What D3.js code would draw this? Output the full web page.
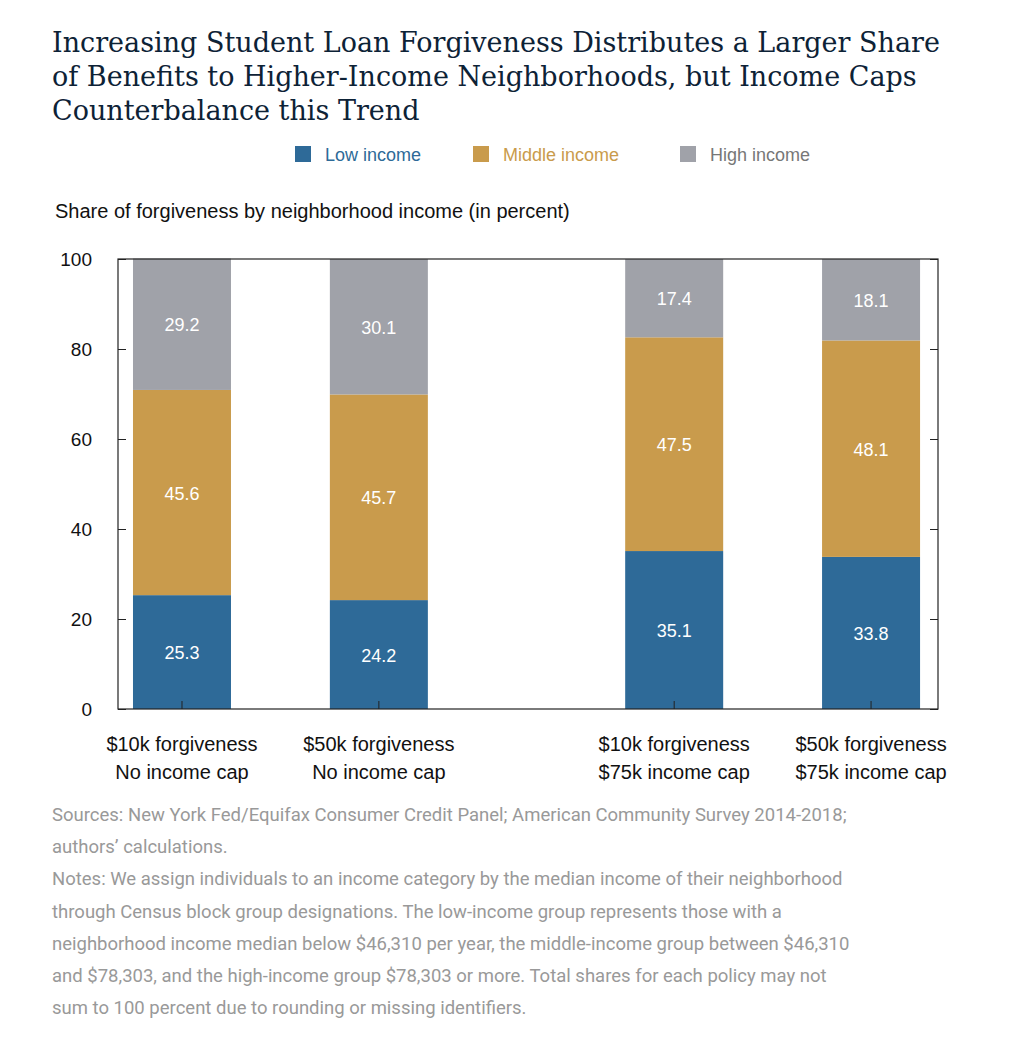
<!DOCTYPE html>
<html><head><meta charset="utf-8">
<script src="https://cdn.jsdelivr.net/npm/d3@7"></script>
<style>body{margin:0;background:#fff}</style>
</head><body>
<script>
// values
const policies = ["$10k forgiveness|No income cap", "$50k forgiveness|No income cap",
                  "$10k forgiveness|$75k income cap", "$50k forgiveness|$75k income cap"];
const slots = [0, 1, 2.5, 3.5]; // gap between the two pairs
const lowIncome = [25.3, 24.2, 35.1, 33.8];
const midIncome = [45.6, 45.7, 47.5, 48.1];
const highIncome = [29.2, 30.1, 17.4, 18.1];
const seriesNames = ["Low income", "Middle income", "High income"];
const colors = ["#2e6a98", "#c99b4c", "#a0a2a9"];
const yTicks = [0, 20, 40, 60, 80, 100];
const notes = [
  "Sources: New York Fed/Equifax Consumer Credit Panel; American Community Survey 2014-2018;",
  "authors\u2019 calculations.",
  "Notes: We assign individuals to an income category by the median income of their neighborhood",
  "through Census block group designations. The low-income group represents those with a",
  "neighborhood income median below $46,310 per year, the middle-income group between $46,310",
  "and $78,303, and the high-income group $78,303 or more. Total shares for each policy may not",
  "sum to 100 percent due to rounding or missing identifiers."];

const svg = d3.select("body").append("svg").attr("width", 1028).attr("height", 1046);
const sans = "Liberation Sans, Arial, sans-serif";

// title
svg.append("text").attr("font-family", "DejaVu Serif, Georgia, serif").attr("font-size", 27)
  .attr("fill", "#0d2236")
  .selectAll("tspan").data([
    "Increasing Student Loan Forgiveness Distributes a Larger Share",
    "of Benefits to Higher-Income Neighborhoods, but Income Caps",
    "Counterbalance this Trend"])
  .join("tspan").attr("x", 52).attr("y", (d, i) => 52 + i * 34).text(d => d);

// legend
const legX = [295, 473, 680];
seriesNames.forEach((n, i) => {
  svg.append("rect").attr("x", legX[i]).attr("y", 146).attr("width", 16).attr("height", 16).attr("fill", colors[i]);
  svg.append("text").attr("x", legX[i] + 30).attr("y", 161).attr("font-family", sans)
    .attr("font-size", 18).attr("fill", i === 0 ? "#2e6a98" : i === 1 ? "#c99b4c" : "#777").text(n);
});

svg.append("text").attr("x", 55).attr("y", 218).attr("font-family", sans).attr("font-size", 20)
  .attr("fill", "#111").text("Share of forgiveness by neighborhood income (in percent)");

const pL = 118, pR = 938, pT = 259, pB = 709;
const y = d3.scaleLinear().domain([0, 100]).range([pB, pT]);
const x = d3.scaleLinear().domain([-0.325, 3.84]).range([pL, pR]);
const bw = 98;

const stacked = d3.stack().keys([0, 1, 2]).value((d, k) => d[k])(
  lowIncome.map((v, i) => [v, midIncome[i], highIncome[i]]));

stacked.forEach((layer, k) => {
  const g = svg.append("g");
  g.selectAll("rect").data(layer).join("rect")
    .attr("x", (d, i) => x(slots[i]) - bw / 2).attr("width", bw)
    .attr("y", d => y(d[1])).attr("height", d => y(d[0]) - y(d[1]))
    .attr("fill", colors[k]);
  g.selectAll("text").data(layer).join("text")
    .attr("x", (d, i) => x(slots[i])).attr("y", d => y((d[0] + d[1]) / 2) + 7)
    .attr("text-anchor", "middle").attr("font-family", sans).attr("font-size", 18)
    .attr("fill", "#fff").text(d => (d[1] - d[0]).toFixed(1));
});

// frame and axes
svg.append("rect").attr("x", pL).attr("y", pT).attr("width", pR - pL).attr("height", pB - pT)
  .attr("fill", "none").attr("stroke", "#222").attr("stroke-width", 1.2);
const yl = svg.append("g").attr("transform", `translate(${pL},0)`)
  .call(d3.axisRight(y).tickValues(yTicks).tickSize(8).tickFormat(""));
const yr = svg.append("g").attr("transform", `translate(${pR},0)`)
  .call(d3.axisLeft(y).tickValues(yTicks).tickSize(8).tickFormat(""));
[yl, yr].forEach(a => { a.select(".domain").remove(); a.selectAll("line").attr("stroke", "#222"); });
svg.selectAll(".ylab").data(yTicks).join("text").attr("x", 92).attr("y", d => y(d) + 7)
  .attr("text-anchor", "end").attr("font-family", sans).attr("font-size", 19).attr("fill", "#111").text(d => d);

svg.append("g").selectAll("line").data(slots).join("line")
  .attr("x1", d => x(d)).attr("x2", d => x(d)).attr("y1", pB).attr("y2", pB - 8).attr("stroke", "#222");

svg.append("g").selectAll("text").data(policies).join("text")
  .attr("font-family", sans).attr("font-size", 20).attr("fill", "#111").attr("text-anchor", "middle")
  .each(function (d, i) {
    d3.select(this).selectAll("tspan").data(d.split("|")).join("tspan")
      .attr("x", x(slots[i])).attr("y", (t, j) => 751 + j * 28).text(t => t);
  });

svg.append("text").attr("font-family", "Roboto, sans-serif").attr("font-size", 18.5).attr("fill", "#999")
  .selectAll("tspan").data(notes).join("tspan")
  .attr("x", 52).attr("y", (d, i) => 821 + i * 32.2).text(d => d);
</script>
</body></html>
